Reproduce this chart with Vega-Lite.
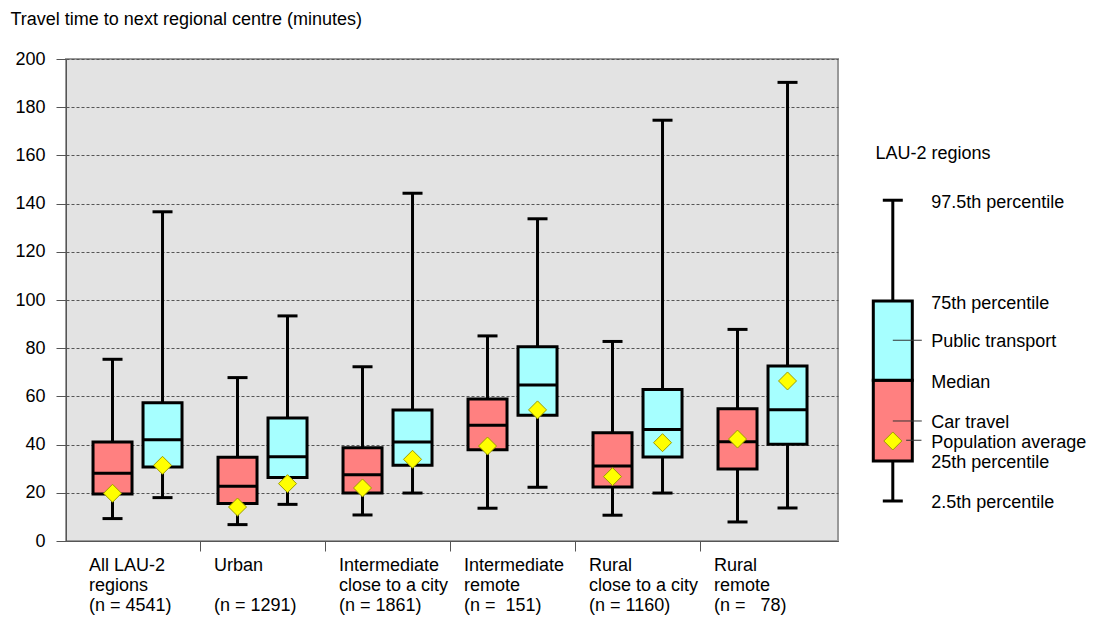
{
  "$schema": "https://vega.github.io/schema/vega-lite/v6.json",
  "padding": {"left": 9, "top": 9, "right": 5, "bottom": 5},
  "background": "white",
  "bounds": "flush",
  "spacing": 8.5,
  "config": {"font": "Liberation Sans"},
  "datasets": {
    "boxes": [
      {"group": "All LAU-2|regions|(n = 4541)", "mode": "Car travel", "lo": 9.3, "q1": 19.5, "med": 28.1, "q3": 41.1, "hi": 75.4, "mean": 19.8},
      {"group": "All LAU-2|regions|(n = 4541)", "mode": "Public transport", "lo": 18.0, "q1": 30.7, "med": 42.0, "q3": 57.4, "hi": 136.6, "mean": 31.4},
      {"group": "Urban|\u2800|(n = 1291)", "mode": "Car travel", "lo": 6.8, "q1": 15.6, "med": 22.7, "q3": 34.7, "hi": 67.8, "mean": 14.1},
      {"group": "Urban|\u2800|(n = 1291)", "mode": "Public transport", "lo": 15.2, "q1": 26.4, "med": 35.0, "q3": 51.0, "hi": 93.4, "mean": 23.8},
      {"group": "Intermediate|close to a city|(n = 1861)", "mode": "Car travel", "lo": 10.8, "q1": 19.9, "med": 27.5, "q3": 38.7, "hi": 72.3, "mean": 22.0},
      {"group": "Intermediate|close to a city|(n = 1861)", "mode": "Public transport", "lo": 19.9, "q1": 31.4, "med": 41.1, "q3": 54.4, "hi": 144.3, "mean": 33.9},
      {"group": "Intermediate|remote|(n =\u00a0\u00a0151)", "mode": "Car travel", "lo": 13.6, "q1": 37.9, "med": 48.0, "q3": 58.9, "hi": 85.1, "mean": 39.4},
      {"group": "Intermediate|remote|(n =\u00a0\u00a0151)", "mode": "Public transport", "lo": 22.3, "q1": 52.2, "med": 64.7, "q3": 80.6, "hi": 133.7, "mean": 54.4},
      {"group": "Rural|close to a city|(n = 1160)", "mode": "Car travel", "lo": 10.7, "q1": 22.4, "med": 31.1, "q3": 44.9, "hi": 82.8, "mean": 26.7},
      {"group": "Rural|close to a city|(n = 1160)", "mode": "Public transport", "lo": 19.9, "q1": 34.9, "med": 46.3, "q3": 62.9, "hi": 174.6, "mean": 40.8},
      {"group": "Rural|remote|(n =\u00a0\u00a0\u00a078)", "mode": "Car travel", "lo": 7.9, "q1": 29.9, "med": 41.2, "q3": 54.9, "hi": 87.8, "mean": 42.3},
      {"group": "Rural|remote|(n =\u00a0\u00a0\u00a078)", "mode": "Public transport", "lo": 13.7, "q1": 40.1, "med": 54.5, "q3": 72.6, "hi": 190.3, "mean": 66.4}
    ],
    "legendStats": [{"lo": 16.6, "q1": 33.2, "med": 66.7, "q3": 99.6, "hi": 141.4, "mean": 41.5}],
    "legendHalves": [
      {"mode": "Car travel", "from": 33.2, "to": 66.7},
      {"mode": "Public transport", "from": 66.7, "to": 99.6}
    ],
    "legendLeaders": [
      {"target": "Public transport", "y": 83.3},
      {"target": "Car travel", "y": 49.8},
      {"target": "Population average", "y": 41.8}
    ],
    "legendLabels": [
      {"text": "97.5th percentile", "y": 140.4},
      {"text": "75th percentile", "y": 98.5},
      {"text": "Public transport", "y": 82.7},
      {"text": "Median", "y": 65.4},
      {"text": "Car travel", "y": 48.8},
      {"text": "Population average", "y": 40.5},
      {"text": "25th percentile", "y": 32.2},
      {"text": "2.5th percentile", "y": 15.9}
    ],
    "legendTitle": [{"text": "LAU-2 regions", "y": 160.4}]
  },
  "hconcat": [
    {
      "width": 772,
      "height": 482,
      "view": {"fill": "#E3E3E3", "stroke": "#999999", "strokeWidth": 2},
      "data": {"name": "boxes"},
      "encoding": {
        "x": {
          "field": "group", "type": "nominal", "sort": null,
          "scale": {"paddingInner": 0, "paddingOuter": 0.088, "align": 0.41},
          "axis": {
            "title": null, "bandPosition": 0, "domain": true, "domainColor": "#555555",
            "ticks": true, "tickSize": 10, "tickColor": "#555555",
            "tickOpacity": {"condition": {"test": "datum.value === 'All LAU-2|regions|(n = 4541)'", "value": 0}, "value": 1},
            "labelExpr": "split(datum.label, '|')", "labelAlign": "left", "labelBaseline": "top",
            "labelOffset": -48.5, "labelPadding": 5, "labelLineHeight": 20, "labelFontSize": 18,
            "labelColor": "#000000", "labelAngle": 0, "grid": false, "labelLimit": 300, "labelOverlap": false
          }
        },
        "xOffset": {"field": "mode", "type": "nominal", "sort": ["Car travel", "Public transport"], "scale": {"paddingInner": 0, "paddingOuter": 0.25}}
      },
      "layer": [
        {
          "mark": {"type": "rule", "strokeWidth": 3, "color": "#000000"},
          "encoding": {
            "y": {
              "field": "lo", "type": "quantitative",
              "scale": {"domain": [0, 200], "nice": false},
              "title": "Travel time to next regional centre (minutes)",
              "axis": {
                "values": [0, 20, 40, 60, 80, 100, 120, 140, 160, 180, 200],
                "grid": true, "gridDash": [3, 2], "gridColor": "#555555", "gridWidth": 1, "gridOpacity": 1,
                "tickSize": 10, "tickColor": "#555555", "domainColor": "#555555",
                "labelFontSize": 18, "labelColor": "#000000", "labelPadding": 11,
                "titleAngle": 0, "titleAlign": "left", "titleBaseline": "middle",
                "titleX": -56, "titleY": -40, "titleFontSize": 18, "titleFontWeight": "normal", "titleColor": "#000000"
              }
            },
            "y2": {"field": "hi"}
          }
        },
        {
          "mark": {"type": "bar", "size": 39, "stroke": "#000000", "strokeWidth": 3, "opacity": 1},
          "encoding": {
            "y": {"field": "q1", "type": "quantitative", "title": "Travel time to next regional centre (minutes)"},
            "y2": {"field": "q3"},
            "color": {"field": "mode", "type": "nominal", "scale": {"domain": ["Car travel", "Public transport"], "range": ["#FF8080", "#A6FFFF"]}, "legend": null}
          }
        },
        {
          "mark": {"type": "tick", "size": 39, "thickness": 3, "color": "#000000", "opacity": 1},
          "encoding": {"y": {"field": "med", "type": "quantitative", "title": "Travel time to next regional centre (minutes)"}}
        },
        {
          "mark": {"type": "tick", "size": 20, "thickness": 3, "color": "#000000", "opacity": 1},
          "encoding": {"y": {"field": "lo", "type": "quantitative", "title": "Travel time to next regional centre (minutes)"}}
        },
        {
          "mark": {"type": "tick", "size": 20, "thickness": 3, "color": "#000000", "opacity": 1},
          "encoding": {"y": {"field": "hi", "type": "quantitative", "title": "Travel time to next regional centre (minutes)"}}
        },
        {
          "mark": {"type": "point", "shape": "diamond", "filled": true, "fill": "#FFFF00", "stroke": "#9C9C00", "strokeWidth": 1, "size": 324, "opacity": 1},
          "encoding": {"y": {"field": "mean", "type": "quantitative", "title": "Travel time to next regional centre (minutes)"}}
        }
      ]
    },
    {
      "width": 92.6,
      "height": 482,
      "view": {"stroke": null, "fill": null},
      "encoding": {
        "x": {"datum": "LAU-2 regions", "type": "nominal", "axis": null, "scale": {"paddingInner": 0, "paddingOuter": 0}}
      },
      "layer": [
        {
          "data": {"name": "legendStats"},
          "mark": {"type": "rule", "strokeWidth": 3, "color": "#000000"},
          "encoding": {
            "y": {"field": "lo", "type": "quantitative", "scale": {"domain": [0, 200], "nice": false}, "axis": null},
            "y2": {"field": "hi"}
          }
        },
        {
          "data": {"name": "legendHalves"},
          "mark": {"type": "bar", "size": 39, "stroke": "#000000", "strokeWidth": 3, "opacity": 1},
          "encoding": {
            "y": {"field": "from", "type": "quantitative", "axis": null},
            "y2": {"field": "to"},
            "color": {"field": "mode", "type": "nominal", "scale": {"domain": ["Car travel", "Public transport"], "range": ["#FF8080", "#A6FFFF"]}, "legend": null}
          }
        },
        {
          "data": {"name": "legendStats"},
          "mark": {"type": "tick", "size": 20, "thickness": 3, "color": "#000000", "opacity": 1},
          "encoding": {"y": {"field": "lo", "type": "quantitative", "axis": null}}
        },
        {
          "data": {"name": "legendStats"},
          "mark": {"type": "tick", "size": 20, "thickness": 3, "color": "#000000", "opacity": 1},
          "encoding": {"y": {"field": "hi", "type": "quantitative", "axis": null}}
        },
        {
          "data": {"name": "legendLeaders"},
          "transform": [{"filter": "datum.target !== 'Population average'"}],
          "mark": {"type": "tick", "size": 29, "thickness": 1, "xOffset": 14.5, "color": "#333333", "opacity": 1},
          "encoding": {"y": {"field": "y", "type": "quantitative", "axis": null}}
        },
        {
          "data": {"name": "legendLeaders"},
          "transform": [{"filter": "datum.target === 'Population average'"}],
          "mark": {"type": "tick", "size": 15.3, "thickness": 1, "xOffset": 21, "color": "#333333", "opacity": 1},
          "encoding": {"y": {"field": "y", "type": "quantitative", "axis": null}}
        },
        {
          "data": {"name": "legendStats"},
          "mark": {"type": "point", "shape": "diamond", "filled": true, "fill": "#FFFF00", "stroke": "#9C9C00", "strokeWidth": 1, "size": 324, "opacity": 1},
          "encoding": {"y": {"field": "mean", "type": "quantitative", "axis": null}}
        },
        {
          "data": {"name": "legendLabels"},
          "mark": {"type": "text", "align": "left", "baseline": "middle", "fontSize": 18, "dx": 38.4, "color": "#000000"},
          "encoding": {"y": {"field": "y", "type": "quantitative", "axis": null}, "text": {"field": "text"}}
        },
        {
          "data": {"name": "legendTitle"},
          "mark": {"type": "text", "align": "left", "baseline": "middle", "fontSize": 18, "dx": -17.3, "color": "#000000"},
          "encoding": {"y": {"field": "y", "type": "quantitative", "axis": null}, "text": {"field": "text"}}
        }
      ]
    }
  ]
}
